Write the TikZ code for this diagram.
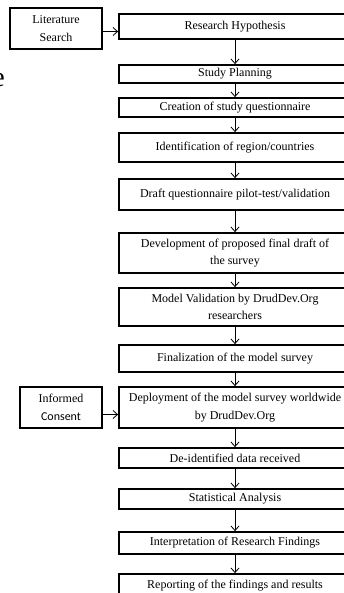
\documentclass[tikz,border=0pt]{standalone}
\usepackage{fontspec}
\setmainfont{Liberation Serif}
\newfontfamily\calib{Carlito}
\usetikzlibrary{arrows.meta}
\begin{document}
\begin{tikzpicture}[x=1pt,y=-1pt,
  mainbox/.style={draw, line width=1.8pt, fill=white, minimum width=232pt, inner sep=1pt,
    align=center, font=\fontsize{12}{17.5}\selectfont},
  sidebox/.style={draw, line width=2pt, fill=white, minimum width=92pt, inner sep=1pt,
    align=center, font=\fontsize{12}{17.5}\selectfont},
  flow/.style={line width=0.8pt, -{Straight Barb[length=4.5pt,width=8pt,line width=0.8pt]}}]
\useasboundingbox (0,0) rectangle (344,593);
\clip (0,0) rectangle (344,593);
\fill[white] (0,0) rectangle (344,593);
% stray fragment at the left edge
\node[anchor=east, inner sep=0pt, font=\fontsize{28}{28}\selectfont] (frag) at (5,80) {e};
% main column
\node[mainbox, minimum height=25pt] (rh) at (235,26.5) {Research Hypothesis};
\node[mainbox, minimum height=18pt] (sp) at (235,74) {Study Planning};
\node[mainbox, minimum height=19pt] (cr) at (235,107.5) {Creation of study questionnaire};
\node[mainbox, minimum height=29pt] (id) at (235,147.5) {Identification of region/countries};
\node[mainbox, minimum height=31pt] (dr) at (235,194.5) {Draft questionnaire pilot-test/validation};
\node[mainbox, minimum height=40pt] (dv) at (235,253) {Development of proposed final draft of\\the survey};
\node[mainbox, minimum height=38pt] (mv) at (235,307) {Model Validation by DrudDev.Org\\researchers};
\node[mainbox, minimum height=27pt] (fn) at (235,358.5) {Finalization of the model survey};
\node[mainbox, minimum height=41pt] (dp) at (235,407.5) {Deployment of the model survey worldwide\\by DrudDev.Org};
\node[mainbox, minimum height=20pt] (de) at (235,458) {De-identified data received};
\node[mainbox, minimum height=20pt] (st) at (235,499) {Statistical Analysis};
\node[mainbox, minimum height=22pt] (ip) at (235,543) {Interpretation of Research Findings};
\node[mainbox, minimum height=24pt] (rp) at (235,586) {Reporting of the findings and results};
% side boxes
\node[sidebox, minimum height=41pt] (lit) at (56,28.5) {Literature\\Search};
\node[sidebox, minimum width=82pt, minimum height=41pt] (inf) at (61,407.5) {Informed\\{\calib Consent}};
% connectors
\draw[flow] ([yshift=-3pt]lit.east) -- ([yshift=-3pt]lit.east -| rh.west);
\draw[flow] ([yshift=-7pt]inf.east) -- ([yshift=-7pt]inf.east -| dp.west);
\foreach \a/\b in {rh/sp, sp/cr, cr/id, id/dr, dr/dv, dv/mv, mv/fn, fn/dp, dp/de, de/st, st/ip, ip/rp}
  \draw[flow] (\a.south) -- (\b.north);
\end{tikzpicture}
\end{document}
